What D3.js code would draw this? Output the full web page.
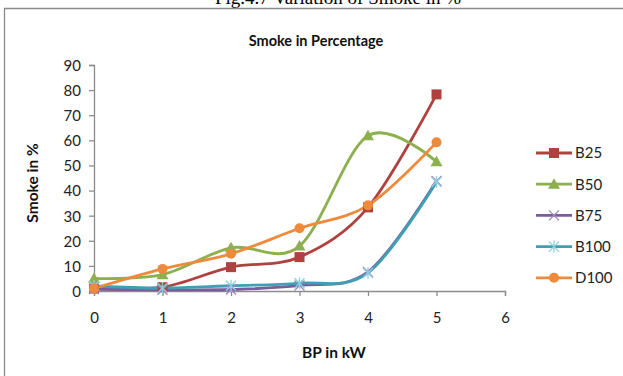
<!DOCTYPE html>
<html><head><meta charset="utf-8">
<script src="https://cdn.jsdelivr.net/npm/d3@7"></script>
<style>body{margin:0;background:#fff}svg{display:block}</style>
</head><body>
<script>
const xValues = [0, 1, 2, 3, 4, 5];
const seriesNames = ["B25", "B50", "B75", "B100", "D100"];
const B25 = [1, 1.5, 9.5, 13.5, 33.3, 78.3];
const B50 = [5, 6.5, 17.2, 17.9, 61.8, 51.5];
const B75 = [0.8, 0.5, 0.6, 2.2, 7.6, 43.8];
const B100 = [2, 1.2, 2.1, 3.1, 7.2, 43.4];
const D100 = [1, 8.8, 14.8, 25, 34.1, 59.2];
const xTicks = [0, 1, 2, 3, 4, 5, 6];
const yTicks = [0, 10, 20, 30, 40, 50, 60, 70, 80, 90];

const seriesData = [B25, B50, B75, B100, D100];
const colors = ["#B0413E", "#8DB04E", "#7A5C9E", "#3F9FB5", "#EE8A3C"];
const markers = ["square", "triangle", "x", "star", "circle"];

const W = 623, H = 376;
const svg = d3.select("body").append("svg").attr("width", W).attr("height", H);

// page caption (partly above the top edge, as in the source) and frame
svg.append("text").attr("x", 338).attr("y", 4).attr("text-anchor", "middle")
  .attr("font-family", "Liberation Serif, serif").attr("font-size", 19)
  .text("Fig.4.7 Variation of Smoke in %");
svg.append("path").attr("d", "M4.5,376V8.5H623").attr("fill", "none")
  .attr("stroke", "#8a8a8a").attr("stroke-width", 1.3);

const x = d3.scaleLinear().domain([0, 6]).range([94, 505]);
const y = d3.scaleLinear().domain([0, 90]).range([291, 65]);

const font = "Lato, 'Open Sans', sans-serif";
const axisColor = "#8c8c8c";

const gx = svg.append("g").attr("transform", "translate(0,291)")
  .call(d3.axisBottom(x).tickValues(xTicks).tickSize(5).tickPadding(16).tickFormat(d3.format("d")));
const gy = svg.append("g").attr("transform", "translate(94,0)")
  .call(d3.axisLeft(y).tickValues(yTicks).tickSize(5).tickPadding(8).tickFormat(d3.format("d")));
[gx, gy].forEach(g => {
  g.select(".domain").attr("stroke", axisColor).attr("stroke-width", 1.3);
  g.selectAll(".tick line").attr("stroke", axisColor).attr("stroke-width", 1.3);
  g.selectAll(".tick text").attr("fill", "#222").attr("font-family", font).attr("font-size", 15);
});
gy.selectAll(".tick text").attr("dy", "0.36em");

// titles
svg.append("text").attr("x", 316).attr("y", 46).attr("text-anchor", "middle")
  .attr("font-family", font).attr("font-weight", "bold").attr("font-size", 14.5).attr("fill", "#111")
  .text("Smoke in Percentage");
svg.append("text").attr("x", 334).attr("y", 358).attr("text-anchor", "middle")
  .attr("font-family", font).attr("font-weight", "bold").attr("font-size", 15.5).attr("fill", "#111")
  .text("BP in kW");
svg.append("text").attr("transform", "translate(38,183) rotate(-90)").attr("text-anchor", "middle")
  .attr("font-family", font).attr("font-weight", "bold").attr("font-size", 15.5).attr("fill", "#111")
  .text("Smoke in %");

function drawMarker(g, type, cx, cy, color) {
  if (type === "square") {
    g.append("rect").attr("x", cx - 5).attr("y", cy - 5).attr("width", 10).attr("height", 10).attr("fill", color);
  } else if (type === "triangle") {
    g.append("path").attr("d", `M${cx},${cy - 6}L${cx + 6},${cy + 4.5}L${cx - 6},${cy + 4.5}Z`).attr("fill", color);
  } else if (type === "circle") {
    g.append("circle").attr("cx", cx).attr("cy", cy).attr("r", 5).attr("fill", color);
  } else if (type === "x" || type === "star") {
    const s = 5;
    g.append("path").attr("d", `M${cx - s},${cy - s}L${cx + s},${cy + s}M${cx - s},${cy + s}L${cx + s},${cy - s}` +
      (type === "star" ? `M${cx},${cy - s - 1}V${cy + s + 1}` : ""))
      .attr("stroke", type === "star" ? "#8ECFE0" : "#9C86BE").attr("stroke-width", 1.3).attr("fill", "none");
  }
}

const line = d3.line().x((d, i) => x(xValues[i])).y(d => y(d)).curve(d3.curveCatmullRom.alpha(0));
const plot = svg.append("g");
seriesData.forEach((vals, k) => {
  plot.append("path").datum(vals).attr("d", line).attr("fill", "none")
    .attr("stroke", colors[k]).attr("stroke-width", 2.8).attr("stroke-linejoin", "round");
});
seriesData.forEach((vals, k) => {
  const g = plot.append("g");
  vals.forEach((v, i) => drawMarker(g, markers[k], x(xValues[i]), y(v), colors[k]));
});

// legend
const leg = svg.append("g");
seriesNames.forEach((name, k) => {
  const ly = 153 + k * 31.2;
  leg.append("line").attr("x1", 536).attr("x2", 572).attr("y1", ly).attr("y2", ly)
    .attr("stroke", colors[k]).attr("stroke-width", 2.8);
  drawMarker(leg, markers[k], 554, ly, colors[k]);
  leg.append("text").attr("x", 575).attr("y", ly).attr("dy", "0.36em")
    .attr("font-family", font).attr("font-size", 15).attr("fill", "#222").text(name);
});
</script>
</body></html>
